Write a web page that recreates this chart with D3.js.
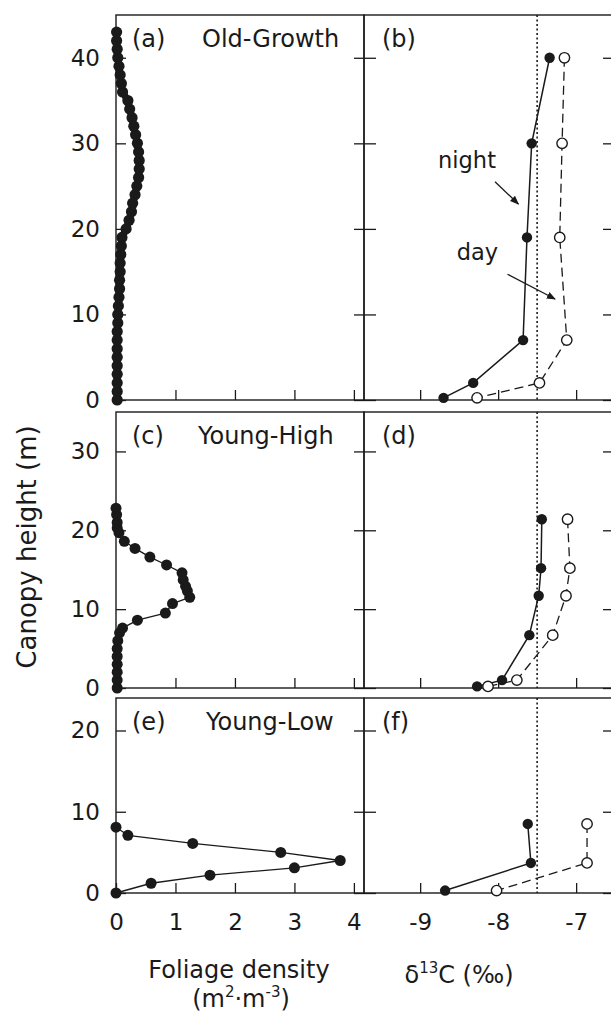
<!DOCTYPE html>
<html>
<head>
<meta charset="utf-8">
<script src="https://cdn.jsdelivr.net/npm/d3@7"></script>
<style>
  body { margin: 0; background: #fff; }
  text { font-family: "DejaVu Sans", sans-serif; fill: #1a1a1a; }
</style>
</head>
<body>
<div id="chart"></div>
<script>
// foliage density profiles (m2 m-3) against canopy height (m)
const oldGrowthHeight = [0, 1, 2, 3, 4, 5, 6, 7, 8, 9, 10, 11, 12, 13, 14, 15, 16, 17, 18, 19, 20, 21,
  22, 23, 24, 25, 26, 27, 28, 29, 30, 31, 32, 33, 34, 35, 36, 37, 38, 39, 40, 41, 42, 43];
const oldGrowthDensity = [0.02, 0.02, 0.02, 0.02, 0.02, 0.02, 0.02, 0.02, 0.02, 0.03, 0.03, 0.04, 0.05,
  0.06, 0.06, 0.07, 0.07, 0.08, 0.09, 0.1, 0.17, 0.22, 0.26, 0.28, 0.32, 0.35, 0.38, 0.39, 0.39, 0.38,
  0.36, 0.33, 0.3, 0.27, 0.23, 0.2, 0.11, 0.09, 0.07, 0.05, 0.03, 0.02, 0.01, 0.01];

const youngHighHeight = [0, 1, 2, 3, 4, 5, 6, 7, 7.6, 8.6, 9.5, 10.7, 11.5, 12.3, 12.9, 13.7, 14.6,
  15.6, 16.6, 17.7, 18.6, 19.7, 20.3, 21, 22, 22.8];
const youngHighDensity = [0.02, 0.02, 0.02, 0.02, 0.02, 0.02, 0.03, 0.06, 0.11, 0.36, 0.83, 0.95, 1.24,
  1.2, 1.17, 1.13, 1.11, 0.85, 0.57, 0.32, 0.14, 0.05, 0.02, 0.02, 0.01, 0];

const youngLowHeight = [0, 1.2, 2.2, 3.1, 4.0, 5.0, 6.1, 7.1, 8.1];
const youngLowDensity = [0, 0.59, 1.58, 3.0, 3.77, 2.77, 1.29, 0.2, 0];

// d13C of CO2 (per mil), night and day, against sampling height (m)
const oldGrowthIsoHeight = [40, 30, 19, 7, 2, 0.25];
const oldGrowthNight = [-7.34, -7.57, -7.63, -7.68, -8.32, -8.70];
const oldGrowthDay = [-7.15, -7.18, -7.21, -7.12, -7.47, -8.27];

const youngHighIsoHeight = [21.4, 15.2, 11.7, 6.7, 1.0, 0.2];
const youngHighNight = [-7.44, -7.45, -7.48, -7.60, -7.95, -8.27];
const youngHighDay = [-7.11, -7.08, -7.13, -7.30, -7.76, -8.13];

const youngLowIsoHeight = [8.5, 3.7, 0.3];
const youngLowNight = [-7.62, -7.58, -8.68];
const youngLowDay = [-6.86, -6.86, -8.02];

const densityTicks = [0, 1, 2, 3, 4];
const isoTicks = [-9, -8, -7];
const referenceIso = -7.5;

const width = 611;
const height = 1015;

const svg = d3.select('#chart')
    .append('svg')
    .attr('width', width)
    .attr('height', height);

svg.append('defs').append('marker')
    .attr('id', 'head')
    .attr('viewBox', '0 0 10 10')
    .attr('refX', 9).attr('refY', 5)
    .attr('markerWidth', 7).attr('markerHeight', 7)
    .attr('orient', 'auto')
    .append('path')
    .attr('d', 'M0,1 L10,5 L0,9 Z')
    .attr('fill', '#1a1a1a');

const xL = d3.scaleLinear().domain([0, 4.17]).range([116, 364]);
const xR = d3.scaleLinear().domain([-9.72, -6.54]).range([364, 612]);

const zip = (a, b) => a.map((v, i) => [v, b[i]]);
const plain = d => String(d);

const rows = [
    {top: 15, bottom: 400, max: 45, yTicks: [0, 10, 20, 30, 40], tags: ['(a)', '(b)'], name: 'Old-Growth', nameX: 202,
     fol: zip(oldGrowthDensity, oldGrowthHeight), r: 5.6, band: 7,
     night: zip(oldGrowthNight, oldGrowthIsoHeight), day: zip(oldGrowthDay, oldGrowthIsoHeight)},
    {top: 412, bottom: 688, max: 35, yTicks: [0, 10, 20, 30], tags: ['(c)', '(d)'], name: 'Young-High', nameX: 198,
     fol: zip(youngHighDensity, youngHighHeight), r: 5.5, band: 1.3,
     night: zip(youngHighNight, youngHighIsoHeight), day: zip(youngHighDay, youngHighIsoHeight)},
    {top: 698, bottom: 893, max: 24, yTicks: [0, 10, 20], tags: ['(e)', '(f)'], name: 'Young-Low', nameX: 206,
     fol: zip(youngLowDensity, youngLowHeight), r: 5.5, band: 1.3,
     night: zip(youngLowNight, youngLowIsoHeight), day: zip(youngLowDay, youngLowIsoHeight)}
];

const ink = '#1a1a1a';

rows.forEach((row, i) => {
    const last = i === rows.length - 1;
    const y = d3.scaleLinear().domain([0, row.max]).range([row.bottom, row.top]);
    const g = svg.append('g');

    // ticks
    const tickAxes = [
        {x: 116, axis: d3.axisLeft(y).tickSizeInner(-10).tickPadding(16), labels: true},
        {x: 364, axis: d3.axisRight(y).tickSizeInner(-10), labels: false},
        {x: 364, axis: d3.axisLeft(y).tickSizeInner(-12), labels: false},
        {x: 612, axis: d3.axisRight(y).tickSizeInner(-9), labels: false}
    ];
    tickAxes.forEach(t => {
        t.axis.tickValues(row.yTicks).tickSizeOuter(0).tickFormat(t.labels ? plain : '');
        const a = g.append('g').attr('transform', `translate(${t.x},0)`).call(t.axis);
        a.select('.domain').remove();
        a.selectAll('line').attr('stroke', ink).attr('stroke-width', 1.3);
        a.selectAll('text').attr('font-size', 23).attr('font-family', '"DejaVu Sans", sans-serif').attr('fill', ink);
    });

    const bx = [
        {scale: xL, ticks: densityTicks},
        {scale: xR, ticks: isoTicks}
    ];
    bx.forEach(b => {
        const ax = d3.axisBottom(b.scale).tickValues(b.ticks).tickSizeInner(-10).tickSizeOuter(0).tickPadding(21)
            .tickFormat(last ? plain : '');
        const a = g.append('g').attr('transform', `translate(0,${row.bottom})`).call(ax);
        a.select('.domain').remove();
        a.selectAll('line').attr('stroke', ink).attr('stroke-width', 1.3);
        a.selectAll('text').attr('font-size', 23).attr('font-family', '"DejaVu Sans", sans-serif').attr('fill', ink);
    });

    // frames
    [[116, 364], [364, 612]].forEach(([a, b]) => {
        g.append('rect')
            .attr('x', a).attr('y', row.top)
            .attr('width', b - a).attr('height', row.bottom - row.top)
            .attr('fill', 'none').attr('stroke', ink).attr('stroke-width', 1.4);
    });

    // reference line
    g.append('line')
        .attr('x1', xR(referenceIso)).attr('x2', xR(referenceIso))
        .attr('y1', row.top).attr('y2', row.bottom)
        .attr('stroke', ink).attr('stroke-width', 1.6)
        .attr('stroke-dasharray', '2,2.5');

    // foliage profile
    const lineL = d3.line().x(d => xL(d[0])).y(d => y(d[1]));
    g.append('path').attr('d', lineL(row.fol))
        .attr('fill', 'none').attr('stroke', ink).attr('stroke-width', row.band)
        .attr('stroke-linejoin', 'round');
    g.selectAll(null).data(row.fol).enter().append('circle')
        .attr('cx', d => xL(d[0])).attr('cy', d => y(d[1]))
        .attr('r', row.r).attr('fill', ink);

    // isotope profiles
    const lineR = d3.line().x(d => xR(d[0])).y(d => y(d[1]));
    g.append('path').attr('d', lineR(row.day))
        .attr('fill', 'none').attr('stroke', ink).attr('stroke-width', 1.3)
        .attr('stroke-dasharray', '9,5');
    g.append('path').attr('d', lineR(row.night))
        .attr('fill', 'none').attr('stroke', ink).attr('stroke-width', 1.5);
    g.selectAll(null).data(row.day).enter().append('circle')
        .attr('cx', d => xR(d[0])).attr('cy', d => y(d[1]))
        .attr('r', 5.2).attr('fill', '#fff').attr('stroke', ink).attr('stroke-width', 1.4);
    g.selectAll(null).data(row.night).enter().append('circle')
        .attr('cx', d => xR(d[0])).attr('cy', d => y(d[1]))
        .attr('r', 5.2).attr('fill', ink);

    // panel labels
    g.append('text').attr('x', 132).attr('y', row.top + 32).attr('font-size', 24).text(row.tags[0]);
    g.append('text').attr('x', row.nameX).attr('y', row.top + 32).attr('font-size', 24).text(row.name);
    g.append('text').attr('x', 382).attr('y', row.top + 32).attr('font-size', 24).text(row.tags[1]);

    if (i === 0) {
        g.append('text').attr('x', xR(-8.77)).attr('y', y(27.1)).attr('font-size', 22.5).text('night');
        g.append('text').attr('x', xR(-8.53)).attr('y', y(16.4)).attr('font-size', 22.5).text('day');
        g.append('line')
            .attr('x1', xR(-8.04)).attr('y1', y(25.5)).attr('x2', xR(-7.74)).attr('y2', y(22.9))
            .attr('stroke', ink).attr('stroke-width', 1.3).attr('marker-end', 'url(#head)');
        g.append('line')
            .attr('x1', xR(-7.88)).attr('y1', y(14.7)).attr('x2', xR(-7.27)).attr('y2', y(11.8))
            .attr('stroke', ink).attr('stroke-width', 1.3).attr('marker-end', 'url(#head)');
    }
});

// axis titles
svg.append('text').attr('x', 239).attr('y', 978).attr('text-anchor', 'middle')
    .attr('font-size', 24).text('Foliage density');
const unit = svg.append('text').attr('x', 241).attr('y', 1007).attr('text-anchor', 'middle').attr('font-size', 24);
unit.append('tspan').text('(m');
unit.append('tspan').attr('font-size', 15).attr('dy', -10).text('2');
unit.append('tspan').attr('dy', 10).text('·m');
unit.append('tspan').attr('font-size', 15).attr('dy', -10).text('-3');
unit.append('tspan').attr('dy', 10).text(')');

const iso = svg.append('text').attr('x', 459).attr('y', 983).attr('text-anchor', 'middle').attr('font-size', 24);
iso.append('tspan').text('δ');
iso.append('tspan').attr('font-size', 15).attr('dy', -10).text('13');
iso.append('tspan').attr('dy', 10).text('C (‰)');

svg.append('text')
    .attr('transform', 'translate(36,547) rotate(-90)')
    .attr('text-anchor', 'middle')
    .attr('font-size', 26)
    .text('Canopy height (m)');
</script>
</body>
</html>
